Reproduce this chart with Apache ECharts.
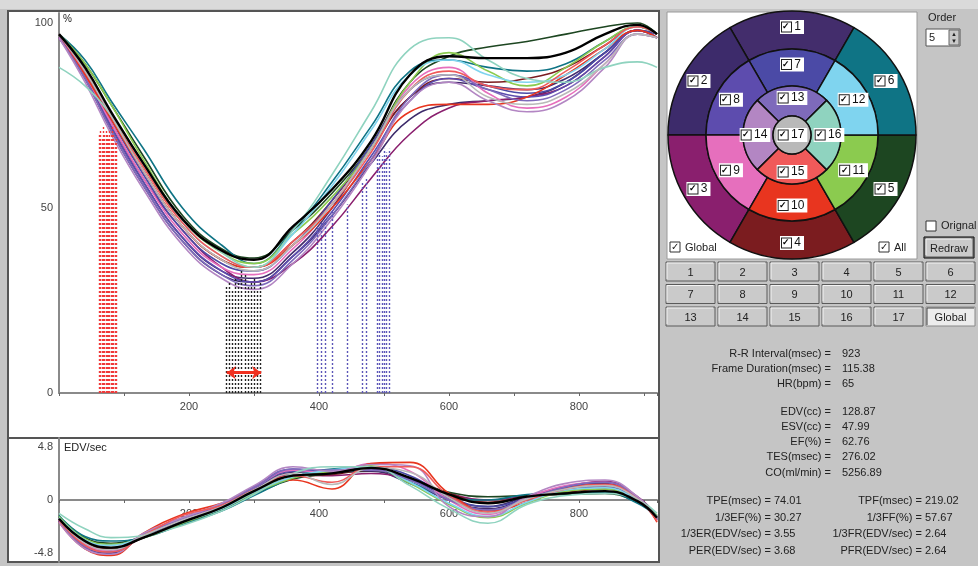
<!DOCTYPE html>
<html>
<head>
<meta charset="utf-8">
<script src="https://cdn.jsdelivr.net/npm/echarts@6/dist/echarts.min.js"></script>
<style>
html,body{margin:0;padding:0;background:#c5c5c5;}
#main{width:978px;height:566px;}
</style>
</head>
<body>
<div id="main"></div>
<script>
// 时间 (msec)
var times = [0, 40, 80, 130, 190, 250, 300, 360, 420, 480, 540, 600, 660, 720, 780, 840, 890, 920];

// 容积曲线 (%)
var volGlobal = [97, 88, 76, 62, 47, 38.5, 36, 45, 55, 68, 86, 91, 90.5, 90.5, 92, 97, 99.5, 97];
var vol1  = [97, 86, 72, 57, 42, 33, 31, 38, 50, 66, 80, 84, 83, 82, 85, 92, 98, 97];
var vol2  = [96, 85, 71, 56, 41, 32, 30, 37, 48, 62, 74, 78, 79, 80, 84, 92, 98, 96];
var vol3  = [96, 86, 73, 58, 44, 34, 30, 35, 45, 58, 70, 77, 79, 80, 83, 91, 98, 96];
var vol4  = [97, 87, 75, 60, 45, 36, 34, 41, 52, 66, 80, 85, 84, 85, 88, 94, 99, 97];
var vol5  = [97, 89, 78, 64, 48, 39, 36.5, 44, 54, 67, 84, 91, 93.5, 95, 97, 99, 100, 97];
var vol6  = [97, 90, 79, 66, 50, 40, 35, 44, 57, 72, 87, 90, 88, 87, 89, 95, 99, 97];
var vol7  = [97, 87, 74, 59, 44, 35, 33, 40, 52, 67, 82, 86, 83, 81, 84, 92, 98, 97];
var vol8  = [96, 86, 72, 57, 42, 33, 30, 37, 49, 64, 79, 85, 82, 80, 83, 91, 98, 96];
var vol9  = [97, 86, 73, 58, 43, 34, 32, 39, 51, 66, 83, 88, 81, 77, 80, 89, 97, 96];
var vol10 = [96, 86, 74, 60, 45, 36, 34, 40, 50, 63, 76, 78, 78, 80, 86, 93, 98, 96];
var vol11 = [97, 89, 78, 63, 47, 38, 35, 43, 53, 66, 84, 92, 87, 83, 88, 95, 99, 97];
var vol12 = [97, 88, 76, 62, 46, 37, 34, 43, 56, 71, 86, 90, 86, 84, 86, 93, 99, 97];
var vol13 = [96, 85, 71, 56, 41, 32, 29, 36, 48, 63, 80, 86, 82, 79, 82, 90, 97, 96];
var vol14 = [96, 84, 70, 55, 40, 31, 28, 35, 47, 62, 79, 84, 79, 76, 79, 88, 97, 96];
var vol15 = [97, 87, 75, 61, 46, 37, 34, 41, 51, 65, 82, 87, 83, 82, 87, 94, 99, 97];
var vol16 = [88, 83, 75, 62, 47, 38, 34, 44, 59, 76, 93, 96, 90, 85, 84, 88, 89.5, 88];
var vol17 = [97, 87, 75, 60, 45, 36, 33, 40, 51, 66, 82, 86, 80, 78, 81, 89, 97, 96];

// 容积变化率 (EDV/sec)
var rateGlobal = [-1.7, -3.7, -4.3, -3.4, -2.0, -0.7, 0.8, 2.2, 2.4, 2.9, 2.0, 0.5, -0.3, 0.3, 0.6, 0.8, -0.1, -1.6];
var rate1  = [-1.9, -4.0, -4.6, -3.3, -1.8, -0.5, 1.0, 2.5, 2.6, 2.8, 1.6, 0.0, -0.8, 0.2, 1.2, 1.5, 0.0, -1.8];
var rate2  = [-1.8, -4.2, -4.8, -3.2, -1.7, -0.4, 1.1, 2.7, 2.5, 2.6, 1.5, 0.1, -0.6, 0.3, 1.0, 1.3, 0.1, -1.7];
var rate3  = [-1.6, -3.9, -4.5, -3.3, -1.9, -0.6, 0.8, 2.3, 2.2, 2.4, 1.8, 0.6, 0.0, 0.4, 1.2, 1.7, 0.3, -1.5];
var rate4  = [-1.7, -3.8, -4.4, -3.4, -2.0, -0.7, 0.7, 2.0, 2.3, 2.7, 2.0, 0.6, -0.2, 0.3, 0.7, 1.0, 0.0, -1.6];
var rate5  = [-1.5, -3.4, -3.9, -3.3, -2.1, -0.9, 0.5, 1.9, 2.4, 2.7, 1.8, 0.7, 0.3, 0.4, 0.5, 0.6, -0.2, -1.4];
var rate6  = [-1.4, -3.3, -3.7, -3.4, -2.2, -1.0, 0.4, 2.0, 2.8, 2.9, 1.6, 0.3, 0.0, 0.5, 0.6, 0.7, -0.3, -1.5];
var rate7  = [-1.8, -4.1, -4.6, -3.2, -1.8, -0.5, 1.0, 2.6, 2.6, 3.0, 2.2, 0.3, -0.6, 0.1, 0.9, 1.2, 0.0, -1.7];
var rate8  = [-1.9, -4.3, -4.9, -3.1, -1.6, -0.4, 1.2, 2.8, 2.5, 2.8, 1.9, 0.2, -0.9, 0.0, 1.1, 1.4, 0.1, -1.8];
var rate9  = [-1.8, -4.0, -4.6, -3.2, -1.7, -0.5, 1.1, 2.7, 2.4, 3.3, 2.6, 0.0, -1.3, 0.2, 1.3, 1.6, 0.2, -1.7];
var rate10 = [-2.0, -4.4, -5.0, -3.0, -1.3, -0.3, 0.9, 1.8, 1.0, 3.3, 3.4, 0.6, -1.0, -0.2, 1.0, 1.4, 0.2, -2.0];
var rate11 = [-1.5, -3.5, -4.0, -3.4, -2.1, -0.8, 0.6, 2.0, 2.6, 3.1, 1.5, -0.4, -1.6, -0.3, 0.8, 1.0, -0.1, -1.4];
var rate12 = [-1.6, -3.6, -4.1, -3.3, -2.0, -0.8, 0.7, 2.1, 2.7, 3.0, 1.6, -0.3, -1.5, -0.2, 0.9, 1.1, 0.0, -1.5];
var rate13 = [-1.9, -4.2, -4.7, -3.1, -1.7, -0.4, 1.1, 2.8, 2.7, 2.7, 1.8, 0.0, -0.9, 0.1, 1.2, 1.6, 0.2, -1.7];
var rate14 = [-2.0, -4.4, -4.9, -3.0, -1.6, -0.3, 1.3, 3.0, 2.6, 3.2, 3.1, -0.6, -1.5, 0.3, 1.5, 1.8, 0.3, -1.8];
var rate15 = [-1.8, -4.1, -4.7, -3.2, -1.4, -0.5, 0.9, 2.2, 1.6, 3.0, 3.0, 0.4, -1.1, 0.0, 1.0, 1.4, 0.1, -1.9];
var rate16 = [-1.2, -2.6, -3.4, -3.2, -2.3, -1.0, 0.5, 2.4, 3.0, 3.0, 1.3, -0.8, -2.1, -0.4, 0.4, 0.6, 0.0, -1.2];
var rate17 = [-1.7, -3.9, -4.5, -3.2, -1.8, -0.6, 0.9, 2.4, 1.4, 2.9, 2.5, 0.2, -1.2, 0.1, 1.0, 1.3, 0.1, -1.6];

// 17段 颜色
var segNames = ['1','2','3','4','5','6','7','8','9','10','11','12','13','14','15','16','17'];
var segColors = ['#432d6c','#3d2b6b','#8a1f6e','#7b1c1f','#1d4621','#0f7485',
                 '#4b4aa6','#5d4cae','#e66fbd','#e8351f','#8bcb4f','#7fd4ef',
                 '#7e6abb','#b386c3','#f05a5a','#8fd3bf','#b9b9b9'];

// 各段时相标记 (msec) 与曲线高度 (%)
var tpeTimes = [62, 64, 66, 68, 70, 72, 74, 76, 78, 80, 82, 84, 86, 88];
var tpeTops  = [70, 71, 69, 72, 70, 71, 70, 69, 71, 70, 72, 70, 68, 69];
var tesTimes = [258, 262, 266, 271, 276, 281, 286, 291, 296, 300, 305, 310];
var tesTops  = [29, 30, 28, 31, 30, 33, 32, 29, 30, 31, 28, 30];
var tpfTimes = [398, 404, 410, 420, 443, 466, 472, 489, 493, 497, 500, 504, 508];
var tpfTops  = [45, 46, 47, 49, 51, 57, 58, 64, 65, 64, 66, 65, 66];
var tesRange = [258, 311];

// 按钮 / 数值
var buttonLabels = ['1','2','3','4','5','6','7','8','9','10','11','12','13','14','15','16','17','Global'];
var statLabels = ['R-R Interval(msec) =','Frame Duration(msec) =','HR(bpm) =',
                  'EDV(cc) =','ESV(cc) =','EF(%) =','TES(msec) =','CO(ml/min) ='];
var statValues = ['923','115.38','65','128.87','47.99','62.76','276.02','5256.89'];
var leftLabels = ['TPE(msec) =','1/3EF(%) =','1/3ER(EDV/sec) =','PER(EDV/sec) ='];
var leftValues = ['74.01','30.27','3.55','3.68'];
var rightLabels = ['TPF(msec) =','1/3FF(%) =','1/3FR(EDV/sec) =','PFR(EDV/sec) ='];
var rightValues = ['219.02','57.67','2.64','2.64'];

var volSegs = [vol1,vol2,vol3,vol4,vol5,vol6,vol7,vol8,vol9,vol10,vol11,vol12,vol13,vol14,vol15,vol16,vol17];
var rateSegs = [rate1,rate2,rate3,rate4,rate5,rate6,rate7,rate8,rate9,rate10,rate11,rate12,rate13,rate14,rate15,rate16,rate17];

var FONT = '"Liberation Sans", Arial, sans-serif';

function toPairs(arr){
    return times.map(function(t, i){ return [t, arr[i]]; });
}

function curve(arr, color, width, axis, z){
    return {
        type: 'line', xAxisIndex: axis, yAxisIndex: axis,
        data: toPairs(arr), smooth: 0.45, showSymbol: false, silent: true,
        lineStyle: { color: color, width: width }, z: z
    };
}

function markSeries(ts, tops, color){
    return {
        type: 'line', xAxisIndex: 0, yAxisIndex: 0, data: [], silent: true, z: 2,
        markLine: {
            silent: true, symbol: 'none', animation: false,
            label: { show: false },
            lineStyle: { color: color, width: 1.4, type: [2, 2] },
            data: ts.map(function(t, i){ return [{ coord: [t, 0] }, { coord: [t, tops[i]] }]; })
        }
    };
}

function cbLabel(name){
    return '{cb|✓}{n| ' + name + '}';
}

var pieLabel = {
    show: true, position: 'inside', rotate: 0,
    formatter: function(p){ return cbLabel(p.name); },
    backgroundColor: '#fff', padding: [1, 3, 1, 2],
    rich: {
        cb: { width: 9, height: 9, lineHeight: 10, borderColor: '#222', borderWidth: 1,
              backgroundColor: '#fff', fontSize: 9, align: 'center', color: '#000', fontWeight: 'bold' },
        n: { fontSize: 12, color: '#111', fontFamily: FONT }
    }
};

function ring(ids, radius, startAngle, pos){
    var lbl = Object.assign({}, pieLabel, { position: pos || 'inside' });
    return {
        type: 'pie', center: [792, 135], radius: radius, startAngle: startAngle,
        clockwise: false, silent: true, animation: false, z: 3,
        label: lbl, labelLine: { show: false },
        emphasis: { disabled: true },
        itemStyle: { borderColor: '#111', borderWidth: 1.5 },
        data: ids.map(function(k){
            return { name: segNames[k], value: 1, itemStyle: { color: segColors[k] } };
        })
    };
}

var series = [];
for (var k = 0; k < 17; k++) series.push(curve(volSegs[k], segColors[k], 1.6, 0, 3));
series.push(curve(volGlobal, '#000', 2.4, 0, 5));
series.push(markSeries(tpeTimes, tpeTops, '#f03a3a'));
series.push(markSeries(tesTimes, tesTops, '#222'));
series.push(markSeries(tpfTimes, tpfTops, '#5c56b8'));
series.push({
    type: 'line', xAxisIndex: 0, yAxisIndex: 0, data: [], silent: true, z: 6,
    markLine: {
        silent: true, symbol: ['arrow', 'arrow'], symbolSize: [10, 9], animation: false,
        label: { show: false },
        lineStyle: { color: '#f03020', width: 3, type: 'solid' },
        data: [[{ coord: [tesRange[0], 5.5] }, { coord: [tesRange[1], 5.5] }]]
    }
});
for (var k2 = 0; k2 < 17; k2++) series.push(curve(rateSegs[k2], segColors[k2], 1.6, 1, 3));
series.push(curve(rateGlobal, '#000', 2.4, 1, 5));

series.push(ring([0,1,2,3,4,5], [86, 124], 60));
series.push(ring([6,7,8,9,10,11], [49, 86], 60));
series.push(ring([12,13,14,15], [19, 49], 45));
series.push(ring([16], [0, 19], 90, 'center'));

// 界面元素
var graphics = [];
function rect(x, y, w, h, fill, stroke, lw, z){
    graphics.push({ type: 'rect', z: z === undefined ? -10 : z, silent: true,
        shape: { x: x, y: y, width: w, height: h },
        style: { fill: fill, stroke: stroke || null, lineWidth: lw || 0 } });
}
function text(x, y, s, align, size, z){
    graphics.push({ type: 'text', z: z || 20, silent: true, x: x, y: y,
        style: { text: s, align: align || 'left', verticalAlign: 'middle',
                 font: (size || 11) + 'px ' + FONT, fill: '#222' } });
}
function line(pts, color, z){
    graphics.push({ type: 'polyline', z: z || 20, silent: true,
        shape: { points: pts }, style: { stroke: color, lineWidth: 1, fill: null } });
}
function checkbox(x, y){
    rect(x, y, 10, 10, '#fff', '#333', 1, 20);
    text(x + 5, y + 5.5, '✓', 'center', 10, 21);
}
function button(x, y, w, h, label, pressed){
    if (pressed) {
        rect(x, y, w, h, '#ececec', '#8a8a8a', 1, 15);
        line([[x + 1, y + h - 1], [x + 1, y + 1], [x + w - 1, y + 1]], '#444', 16);
    } else {
        rect(x, y, w, h, '#cacaca', '#5a5a5a', 1, 15);
        line([[x + 1, y + h - 2], [x + 1, y + 1], [x + w - 2, y + 1]], '#f4f4f4', 16);
    }
    text(x + w / 2, y + h / 2 + 1, label, 'center', 11, 20);
}

rect(0, 0, 978, 9, '#dadada');
rect(8, 11, 651, 427, '#fff', '#555', 2);
rect(8, 438, 651, 124, '#fff', '#555', 2);
rect(667, 12, 250, 247, '#fff', '#9a9a9a', 1);
text(63, 19, '%', 'left', 10);
text(64, 448, 'EDV/sec', 'left', 11);

checkbox(670, 242);
text(685, 248, 'Global', 'left', 11);
checkbox(879, 242);
text(894, 248, 'All', 'left', 11);

text(928, 18, 'Order', 'left', 11);
rect(926, 29, 34, 17, '#fff', '#555', 1, 15);
text(929, 38, '5', 'left', 11);
rect(949, 30, 10, 15, '#cacaca', '#666', 1, 16);
text(954, 34, '▲', 'center', 6, 21);
text(954, 41, '▼', 'center', 6, 21);

rect(926, 221, 10, 10, '#fff', '#333', 1, 20);
text(941, 226, 'Orignal', 'left', 11);
button(925, 238, 48, 19, 'Redraw', false);
rect(924, 237, 50, 21, null, '#000', 1, 17);

buttonLabels.forEach(function(b, i){
    var c = i % 6, r = Math.floor(i / 6);
    button(666 + c * 52, 262 + r * 22.5, 49, 19, b, b === 'Global');
});

var statY = [354, 369, 384, 412, 427, 442, 457, 473];
statLabels.forEach(function(s, i){
    text(831, statY[i], s, 'right', 11);
    text(842, statY[i], statValues[i], 'left', 11);
});
var lowY = [501, 518, 534, 551];
leftLabels.forEach(function(s, i){
    text(771, lowY[i], s, 'right', 11);
    text(774, lowY[i], leftValues[i], 'left', 11);
    text(922, lowY[i], rightLabels[i], 'right', 11);
    text(925, lowY[i], rightValues[i], 'left', 11);
});

var axisCommon = {
    type: 'value', min: 0, max: 920, interval: 100,
    splitLine: { show: false },
    axisLine: { onZero: false, lineStyle: { color: '#8a8a8a', width: 2 } },
    axisTick: { length: 3, lineStyle: { color: '#666' } },
    axisLabel: {
        color: '#444', fontSize: 11, fontFamily: FONT, margin: 8,
        formatter: function(v){ return (v > 0 && v % 200 === 0) ? String(v) : ''; }
    }
};

var option = {
    backgroundColor: '#c5c5c5',
    animation: false,
    grid: [
        { left: 59, top: 13, width: 598, height: 380, containLabel: false, outerBoundsMode: 'none' },
        { left: 59, top: 438, width: 598, height: 124, containLabel: false, outerBoundsMode: 'none' }
    ],
    xAxis: [
        Object.assign({ gridIndex: 0 }, axisCommon),
        // 下图横轴放在 0 线处
        Object.assign({ gridIndex: 1, position: 'bottom', offset: -62 }, axisCommon)
    ],
    yAxis: [
        {
            type: 'value', gridIndex: 0, min: 0, max: 102.7,
            splitLine: { show: false },
            axisLine: { show: true, lineStyle: { color: '#8a8a8a', width: 2 } },
            axisTick: { show: false },
            axisLabel: { customValues: [0, 50, 100], color: '#444', fontSize: 11, fontFamily: FONT, margin: 6 }
        },
        {
            type: 'value', gridIndex: 1, min: -5.6, max: 5.6,
            splitLine: { show: false },
            axisLine: { show: true, lineStyle: { color: '#8a8a8a', width: 2 } },
            axisTick: { show: false },
            axisLabel: { customValues: [-4.8, 0, 4.8], color: '#444', fontSize: 11, fontFamily: FONT, margin: 6 }
        }
    ],
    graphic: graphics,
    series: series
};

var myChart = echarts.init(document.getElementById('main'));
myChart.setOption(option);
</script>
</body>
</html>
